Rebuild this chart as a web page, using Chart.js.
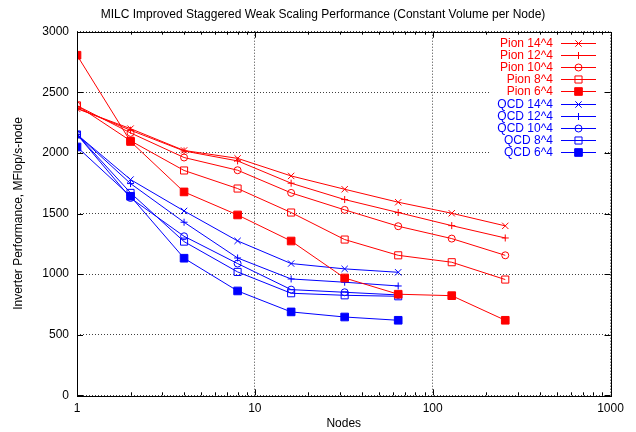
<!DOCTYPE html>
<html>
<head>
<meta charset="utf-8">
<script src="https://cdn.jsdelivr.net/npm/chart.js@4/dist/chart.umd.min.js"></script>
<style>
  html, body { margin: 0; padding: 0; background: #fff; }
  #wrap { width: 636px; height: 432px; position: relative; }
</style>
</head>
<body>
<div id="wrap"><canvas id="chart"></canvas></div>
<script>
// data
const pionNodes = [1, 2, 4, 8, 16, 32, 64, 128, 256];
const qcdNodes = [1, 2, 4, 8, 16, 32, 64];

const pion14 = [2365, 2200, 2020, 1955, 1810, 1700, 1593, 1502, 1398];
const pion12 = [2370, 2187, 2016, 1934, 1750, 1615, 1508, 1400, 1298];
const pion10 = [2390, 2165, 1962, 1857, 1670, 1530, 1395, 1293, 1155];
const pion8  = [2392, 2100, 1855, 1706, 1508, 1285, 1155, 1098, 955];
const pion6  = [2806, 2094, 1678, 1488, 1273, 968, 834, 822, 619];

const qcd14 = [2152, 1780, 1521, 1274, 1087, 1043, 1015];
const qcd12 = [2152, 1747, 1428, 1133, 960, 933, 902];
const qcd10 = [2152, 1628, 1312, 1087, 872, 850, 828];
const qcd8  = [2152, 1670, 1268, 1018, 842, 825, 817];
const qcd6  = [2049, 1642, 1131, 861, 688, 646, 619];

const seriesLabels = ['Pion 14^4', 'Pion 12^4', 'Pion 10^4', 'Pion 8^4', 'Pion 6^4',
                      'QCD 14^4', 'QCD 12^4', 'QCD 10^4', 'QCD 8^4', 'QCD 6^4'];
const xTickValues = [1, 10, 100, 1000];

const RED = '#ff0000';
const BLUE = '#0000ff';
const FONT = '"Liberation Sans", Arial, Helvetica, sans-serif';

const styles = [
  { color: RED, point: 'crossRot', r: 4.5, fill: false },
  { color: RED, point: 'cross', r: 3.5, fill: false },
  { color: RED, point: 'circle', r: 3.5, fill: false },
  { color: RED, point: 'rect', r: 5, fill: false },
  { color: RED, point: 'rect', r: 5.4, fill: true },
  { color: BLUE, point: 'crossRot', r: 4.5, fill: false },
  { color: BLUE, point: 'cross', r: 3.5, fill: false },
  { color: BLUE, point: 'circle', r: 3.5, fill: false },
  { color: BLUE, point: 'rect', r: 5, fill: false },
  { color: BLUE, point: 'rect', r: 5.4, fill: true },
];

const values = [pion14, pion12, pion10, pion8, pion6, qcd14, qcd12, qcd10, qcd8, qcd6];

function makeDataset(i) {
  const nodes = i < 5 ? pionNodes : qcdNodes;
  const st = styles[i];
  return {
    label: seriesLabels[i],
    data: values[i].map((v, k) => ({ x: nodes[k], y: v })),
    showLine: true,
    borderColor: st.color,
    borderWidth: 1,
    pointStyle: st.point,
    pointRadius: st.r,
    pointBorderColor: st.color,
    pointBorderWidth: 1,
    pointBackgroundColor: st.fill ? st.color : 'rgba(0,0,0,0)',
    tension: 0,
  };
}

// gnuplot-ish frame, ticks, key and titles
const gnuplotDecor = {
  id: 'gnuplotDecor',
  beforeDatasetsDraw(chart) {
    const ctx = chart.ctx;
    // opaque key box
    ctx.save();
    ctx.fillStyle = '#fff';
    ctx.fillRect(490, 33, 114, 126);
    ctx.restore();
  },
  afterDraw(chart) {
    const ctx = chart.ctx;
    const a = chart.chartArea;
    const xs = chart.scales.x, ys = chart.scales.y;
    ctx.save();
    ctx.strokeStyle = '#000';
    ctx.lineWidth = 1;
    ctx.setLineDash([]);
    ctx.beginPath();
    // x ticks (major + minor), bottom and top
    for (let d = 1; d < 1000; d *= 10) {
      for (let k = 1; k <= 9; k++) {
        const px = Math.round(xs.getPixelForValue(d * k)) + 0.5;
        const len = k === 1 ? 6 : 3;
        ctx.moveTo(px, a.bottom); ctx.lineTo(px, a.bottom - len);
        ctx.moveTo(px, a.top); ctx.lineTo(px, a.top + len);
      }
    }
    // y ticks left and right
    for (let v = 0; v <= 3000; v += 500) {
      const py = Math.round(ys.getPixelForValue(v)) + 0.5;
      ctx.moveTo(a.left, py); ctx.lineTo(a.left + 6, py);
      ctx.moveTo(a.right, py); ctx.lineTo(a.right - 6, py);
    }
    ctx.stroke();
    // frame
    ctx.strokeRect(Math.round(a.left) + 0.5, Math.round(a.top) + 0.5,
                   Math.round(a.right - a.left), Math.round(a.bottom - a.top));

    // key
    ctx.font = '12px ' + FONT;
    ctx.textAlign = 'right';
    ctx.textBaseline = 'middle';
    chart.data.datasets.forEach((ds, i) => {
      const y = Math.round(42.5 + i * 12.2) + 0.5;
      const st = styles[i];
      ctx.fillStyle = st.color;
      ctx.fillText(ds.label, 553, y);
      ctx.strokeStyle = st.color;
      ctx.beginPath();
      ctx.moveTo(561, y);
      ctx.lineTo(596, y);
      ctx.stroke();
      ctx.fillStyle = st.fill ? st.color : 'rgba(0,0,0,0)';
      Chart.helpers.drawPoint(ctx, {
        pointStyle: st.point, radius: st.r, borderWidth: 1, rotation: 0
      }, 578.5, y);
    });
    ctx.restore();

    // titles
    ctx.save();
    ctx.fillStyle = '#000';
    ctx.font = '12px ' + FONT;
    ctx.textAlign = 'center';
    ctx.textBaseline = 'middle';
    ctx.fillText('MILC Improved Staggered Weak Scaling Performance (Constant Volume per Node)', 323, 15);
    ctx.fillText('Nodes', (a.left + a.right) / 2, 424);
    ctx.translate(19, (a.top + a.bottom) / 2);
    ctx.rotate(-Math.PI / 2);
    ctx.fillText('Inverter Performance, MFlop/s-node', 0, 0);
    ctx.restore();
  }
};

new Chart(document.getElementById('chart'), {
  type: 'scatter',
  data: { datasets: values.map((_, i) => makeDataset(i)) },
  options: {
    responsive: true,
    maintainAspectRatio: false,
    animation: false,
    layout: { padding: { top: 31.7, right: 25.5, left: 0, bottom: 0 } },
    plugins: {
      legend: { display: false },
      title: { display: false },
      tooltip: { enabled: false },
    },
    scales: {
      x: {
        type: 'logarithmic',
        min: 1,
        max: 1000,
        afterBuildTicks(scale) {
          scale.ticks = xTickValues.map(v => ({ value: v }));
        },
        afterFit(scale) { scale.height = 36.7; },
        ticks: {
          color: '#000',
          font: { family: FONT, size: 12 },
          padding: 6,
          maxRotation: 0,
          autoSkip: false,
          callback: v => String(v),
        },
        grid: { color: 'rgba(0,0,0,0.75)', drawTicks: false, lineWidth: 1 },
        border: { display: false, dash: [1, 2] },
      },
      y: {
        min: 0,
        max: 3000,
        afterFit(scale) { scale.width = 77; },
        ticks: {
          stepSize: 500,
          color: '#000',
          font: { family: FONT, size: 12 },
          padding: 8,
          callback: v => String(v),
        },
        grid: { color: 'rgba(0,0,0,0.75)', drawTicks: false, lineWidth: 1 },
        border: { display: false, dash: [1, 2] },
      }
    }
  },
  plugins: [gnuplotDecor]
});
</script>
</body>
</html>
